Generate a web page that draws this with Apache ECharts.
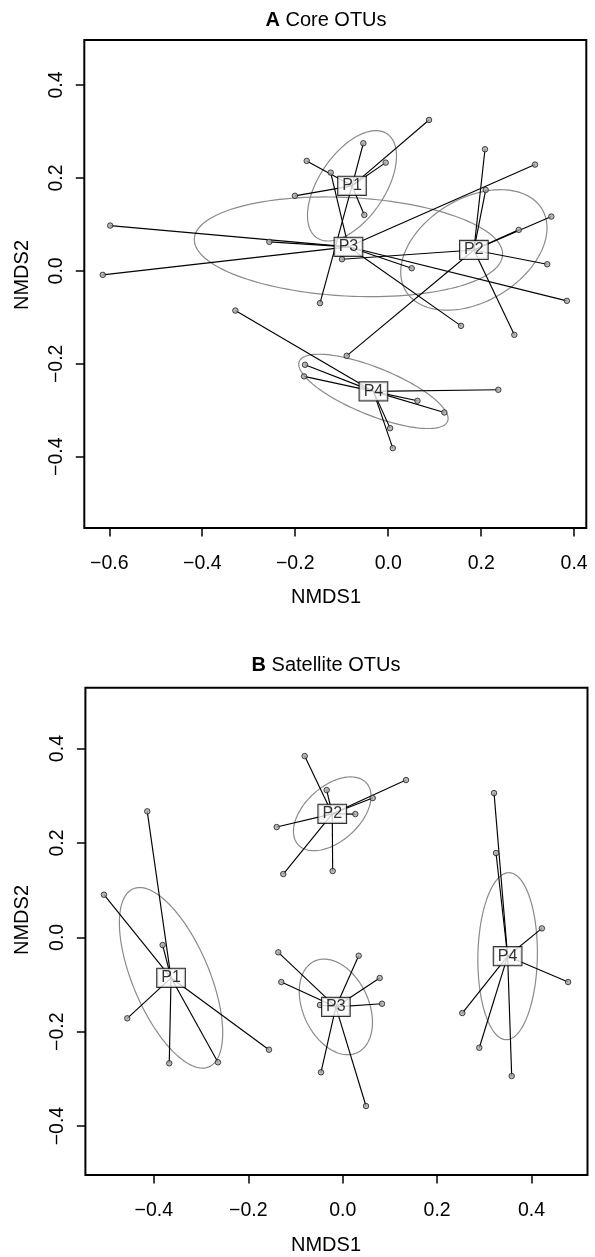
<!DOCTYPE html>
<html>
<head>
<meta charset="utf-8">
<script src="https://cdn.jsdelivr.net/npm/echarts@6/dist/echarts.min.js"></script>
<style>
  html, body { margin: 0; padding: 0; background: #fff; }
  #chart { width: 595px; height: 1257px; }
</style>
</head>
<body>
<div id="chart"></div>
<script>
// Plot names
const groupNames = ['P1', 'P2', 'P3', 'P4'];

// NMDS site scores (NMDS1, NMDS2), core OTUs
const coreP1 = [[-0.1753, 0.2366], [-0.2007, 0.1615], [-0.0054, 0.2329], [-0.0514, 0.1204],
                [0.0878, 0.3247], [-0.0535, 0.2746], [-0.1467, -0.0695]];
const coreP2 = [[-0.0994, 0.0251], [0.2082, 0.2617], [0.2097, 0.1742], [0.2807, 0.0882],
                [0.3509, 0.1168], [0.3420, 0.0143], [0.2713, -0.1376], [-0.0893, -0.1828]];
const coreP3 = [[-0.5980, 0.0975], [-0.2557, 0.0624], [-0.6140, -0.0086], [0.0505, 0.0057],
                [0.3158, 0.2287], [0.3843, -0.0645], [0.1566, -0.1183], [-0.1237, 0.2114]];
const coreP4 = [[-0.3288, -0.0854], [-0.1790, -0.2022], [-0.1810, -0.2270], [0.2368, -0.2559],
                [0.0629, -0.2796], [0.1207, -0.3047], [0.0041, -0.3384], [0.0098, -0.3814]];

// NMDS site scores, satellite OTUs
const satP1 = [[-0.4140, 0.2670], [-0.5057, 0.0903], [-0.3814, -0.0163], [-0.4563, -0.1716],
               [-0.3674, -0.2669], [-0.2642, -0.2648], [-0.1561, -0.2381]];
const satP2 = [[-0.0805, 0.3841], [-0.0339, 0.3120], [0.1341, 0.3333], [0.0636, 0.2951],
               [0.0268, 0.2612], [-0.0212, 0.1405], [-0.1398, 0.2337], [-0.1258, 0.1341]];
const satP3 = [[-0.1364, -0.0318], [-0.1300, -0.0947], [0.0339, -0.0390], [0.0784, -0.0862],
               [0.0833, -0.1407], [-0.0481, -0.1434], [-0.0460, -0.2860], [0.0494, -0.3574]];
const satP4 = [[0.3206, 0.3057], [0.3248, 0.1786], [0.2534, -0.1604], [0.2894, -0.2339],
               [0.3580, -0.2939], [0.4220, 0.0190], [0.4775, -0.0947]];

// Dispersion ellipses per plot: semi-axes and orientation (degrees)
const coreEllipseMajor = [0.135, 0.171, 0.332, 0.172];
const coreEllipseMinor = [0.071, 0.111, 0.106, 0.051];
const coreEllipseAngle = [56, 31, -3, -22];
const satEllipseMajor = [0.205, 0.0975, 0.107, 0.177];
const satEllipseMinor = [0.081, 0.058, 0.0695, 0.063];
const satEllipseAngle = [-67, 42, -65, 89];

// Axis ticks
const coreTicksX = [-0.6, -0.4, -0.2, 0.0, 0.2, 0.4];
const coreTicksY = [-0.4, -0.2, 0.0, 0.2, 0.4];
const satTicksX = [-0.4, -0.2, 0.0, 0.2, 0.4];
const satTicksY = [-0.4, -0.2, 0.0, 0.2, 0.4];

const FONT = "'Liberation Sans', Arial, Helvetica, sans-serif";

function centroid(pts) {
  let sx = 0, sy = 0;
  pts.forEach(p => { sx += p[0]; sy += p[1]; });
  return [sx / pts.length, sy / pts.length];
}

function tickText(v) {
  return (v < -1e-9 ? '\u2212' : '') + Math.abs(v).toFixed(1);
}

function ellipseItem(params, api) {
  const cx = api.value(0), cy = api.value(1);
  const a = api.value(2), b = api.value(3);
  const th = api.value(4) * Math.PI / 180;
  const pts = [];
  for (let i = 0; i <= 144; i++) {
    const t = i / 144 * 2 * Math.PI;
    const x = cx + a * Math.cos(t) * Math.cos(th) - b * Math.sin(t) * Math.sin(th);
    const y = cy + a * Math.cos(t) * Math.sin(th) + b * Math.sin(t) * Math.cos(th);
    pts.push(api.coord([x, y]));
  }
  return {
    type: 'polyline',
    shape: { points: pts },
    style: { stroke: '#8a8a8a', lineWidth: 1.2, fill: null }
  };
}

function spokeItem(params, api) {
  const p = api.coord([api.value(0), api.value(1)]);
  const c = api.coord([api.value(2), api.value(3)]);
  return {
    type: 'line',
    shape: { x1: p[0], y1: p[1], x2: c[0], y2: c[1] },
    style: { stroke: '#000', lineWidth: 1.15 }
  };
}

function panelSeries(groups, major, minor, angle, idx) {
  const cents = groups.map(centroid);
  const ellipses = cents.map((c, i) => [c[0], c[1], major[i], minor[i], angle[i]]);
  const spokes = [];
  const points = [];
  groups.forEach((g, i) => {
    g.forEach(p => {
      spokes.push([p[0], p[1], cents[i][0], cents[i][1]]);
      points.push([p[0], p[1]]);
    });
  });
  const labels = cents.map((c, i) => ({ value: [c[0], c[1]], name: groupNames[i] }));
  return [
    {
      type: 'custom', xAxisIndex: idx, yAxisIndex: idx, z: 1,
      renderItem: ellipseItem, data: ellipses,
      dimensions: ['x', 'y', 'a', 'b', 'ang'], encode: { x: 0, y: 1 },
      silent: true, clip: true
    },
    {
      type: 'custom', xAxisIndex: idx, yAxisIndex: idx, z: 2,
      renderItem: spokeItem, data: spokes,
      dimensions: ['x', 'y', 'cx', 'cy'], encode: { x: 0, y: 1 },
      silent: true, clip: true
    },
    {
      type: 'scatter', xAxisIndex: idx, yAxisIndex: idx, z: 3,
      data: points, symbol: 'circle', symbolSize: 5.5,
      itemStyle: { color: '#a8a8a8', borderColor: '#1e1e1e', borderWidth: 1 },
      silent: true
    },
    {
      type: 'scatter', xAxisIndex: idx, yAxisIndex: idx, z: 5,
      data: labels, symbol: 'rect', symbolSize: 1,
      itemStyle: { color: 'rgba(0,0,0,0)' },
      label: {
        show: true, position: 'inside', formatter: '{b}',
        fontFamily: FONT, fontSize: 16, color: '#000',
        backgroundColor: '#fff', borderColor: '#000', borderWidth: 1.1,
        padding: [1, 4, 1, 4]
      },
      silent: true
    }
  ];
}

function xAxisOf(idx, min, max, ticks) {
  return {
    gridIndex: idx, type: 'value', min: min, max: max,
    splitLine: { show: false },
    axisLine: { show: false, onZero: false },
    axisTick: { show: true, length: 8.5, customValues: ticks, lineStyle: { color: '#000', width: 1.5 } },
    axisLabel: {
      show: true, customValues: ticks, formatter: tickText, margin: 26,
      fontFamily: FONT, fontSize: 19.5, color: '#000'
    }
  };
}

function yAxisOf(idx, min, max, ticks) {
  return {
    gridIndex: idx, type: 'value', min: min, max: max,
    splitLine: { show: false },
    axisLine: { show: false, onZero: false },
    axisTick: { show: true, length: 8.5, customValues: ticks, lineStyle: { color: '#000', width: 1.5 } },
    axisLabel: {
      show: true, customValues: ticks, formatter: tickText, margin: 18, rotate: 90,
      fontFamily: FONT, fontSize: 19.5, color: '#000'
    }
  };
}

function textEl(x, y, text, rot, rich) {
  return {
    type: 'text', x: x, y: y, rotation: rot || 0, silent: true,
    style: {
      text: text, fill: '#000', font: '20px ' + FONT,
      align: 'center', verticalAlign: 'middle', rich: rich
    }
  };
}

const boldRich = { b: { fontWeight: 'bold', fontSize: 20, fontFamily: FONT, fill: '#000' } };

const chart = echarts.init(document.getElementById('chart'), null, { renderer: 'canvas' });
chart.setOption({
  animation: false,
  backgroundColor: '#fff',
  grid: [
    { left: 84.3, top: 40, width: 502, height: 488, show: true, borderColor: '#000', borderWidth: 2, backgroundColor: 'transparent' },
    { left: 85.4, top: 687.7, width: 502.1, height: 487.3, show: true, borderColor: '#000', borderWidth: 2, backgroundColor: 'transparent' }
  ],
  xAxis: [
    xAxisOf(0, -0.6537, 0.4261, coreTicksX),
    xAxisOf(1, -0.5450, 0.5186, satTicksX)
  ],
  yAxis: [
    yAxisOf(0, -0.5533, 0.4968, coreTicksY),
    yAxisOf(1, -0.5036, 0.5290, satTicksY)
  ],
  graphic: [
    textEl(326, 20, '{b|A} Core OTUs', 0, boldRich),
    textEl(326, 597.7, 'NMDS1'),
    textEl(22, 275, 'NMDS2', Math.PI / 2),
    textEl(326, 665.8, '{b|B} Satellite OTUs', 0, boldRich),
    textEl(326, 1245, 'NMDS1'),
    textEl(22.8, 920, 'NMDS2', Math.PI / 2)
  ],
  series: [].concat(
    panelSeries([coreP1, coreP2, coreP3, coreP4], coreEllipseMajor, coreEllipseMinor, coreEllipseAngle, 0),
    panelSeries([satP1, satP2, satP3, satP4], satEllipseMajor, satEllipseMinor, satEllipseAngle, 1)
  )
});
</script>
</body>
</html>
